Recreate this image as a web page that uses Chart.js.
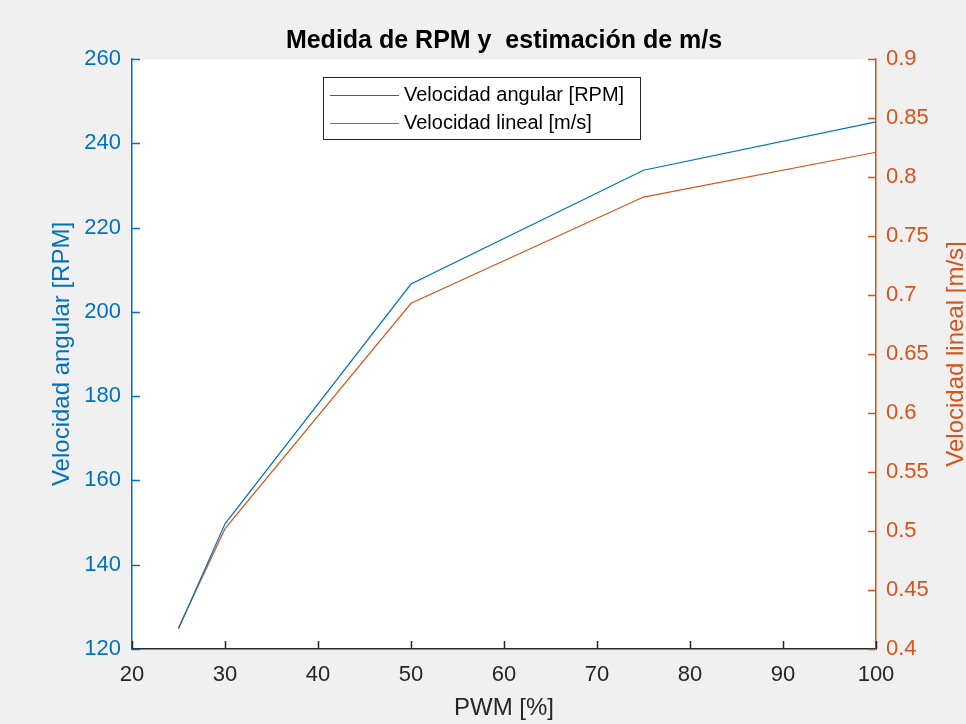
<!DOCTYPE html>
<html>
<head>
<meta charset="utf-8">
<script src="https://cdn.jsdelivr.net/npm/chart.js@4.4.1/dist/chart.umd.min.js"></script>
<style>
  html, body { margin: 0; padding: 0; background: #f0f0f0; }
  #c { display: block; }
</style>
</head>
<body>
<canvas id="c" width="966" height="724"></canvas>
<script>
// ---- data ----
const pwm = [25, 30, 50, 75, 100];
const rpm = [124.8, 149.7, 206.6, 233.6, 245.1];
const mps = [0.418, 0.502, 0.693, 0.783, 0.821];
const xTicks = [20, 30, 40, 50, 60, 70, 80, 90, 100];
const yTicks = [120, 140, 160, 180, 200, 220, 240, 260];
const y1Ticks = [0.4, 0.45, 0.5, 0.55, 0.6, 0.65, 0.7, 0.75, 0.8, 0.85, 0.9];

const chartTitle = 'Medida de RPM y  estimación de m/s';
const xTitle = 'PWM [%]';
const yTitle = 'Velocidad angular [RPM]';
const y1Title = 'Velocidad lineal [m/s]';
const labelRPM = 'Velocidad angular [RPM]';
const labelMPS = 'Velocidad lineal [m/s]';

const BLUE = '#0072BD';
const ORANGE = '#D95319';
const DARK = '#262626';
const FONT = '"Liberation Sans", Arial, Helvetica, sans-serif';

const decorPlugin = {
  id: 'decor',
  afterDraw(chart) {
    const ctx = chart.ctx;
    const a = chart.chartArea;
    const sx = chart.scales.x, sy = chart.scales.y, sy1 = chart.scales.y1;
    const TL = 8;
    ctx.save();
    ctx.lineWidth = 1.5;
    // inward ticks
    ctx.strokeStyle = DARK;
    ctx.beginPath();
    sx.ticks.forEach(t => {
      const px = Math.round(sx.getPixelForValue(t.value)) + 0.5;
      ctx.moveTo(px, a.bottom); ctx.lineTo(px, a.bottom - TL);
    });
    ctx.stroke();
    ctx.strokeStyle = BLUE;
    ctx.beginPath();
    sy.ticks.forEach(t => {
      const py = Math.round(sy.getPixelForValue(t.value)) + 0.5;
      ctx.moveTo(a.left, py); ctx.lineTo(a.left + TL, py);
    });
    ctx.stroke();
    ctx.strokeStyle = ORANGE;
    ctx.beginPath();
    sy1.ticks.forEach(t => {
      const py = Math.round(sy1.getPixelForValue(t.value)) + 0.5;
      ctx.moveTo(a.right, py); ctx.lineTo(a.right - TL, py);
    });
    ctx.stroke();

    // title
    const cx = (a.left + a.right) / 2;
    ctx.fillStyle = '#000';
    ctx.font = 'bold 25px ' + FONT;
    ctx.textAlign = 'center';
    ctx.textBaseline = 'middle';
    ctx.fillText(chartTitle, cx, 41);

    // axis titles
    ctx.font = '24px ' + FONT;
    ctx.fillStyle = DARK;
    ctx.fillText(xTitle, cx, 708);
    const cy = (a.top + a.bottom) / 2;
    ctx.save();
    ctx.translate(62, cy);
    ctx.rotate(-Math.PI / 2);
    ctx.fillStyle = BLUE;
    ctx.fillText(yTitle, 0, 0);
    ctx.restore();
    ctx.save();
    ctx.translate(956, cy);
    ctx.rotate(-Math.PI / 2);
    ctx.fillStyle = ORANGE;
    ctx.fillText(y1Title, 0, 0);
    ctx.restore();

    // legend
    const lx = 323, ly = 77, lw = 317, lh = 62;
    ctx.fillStyle = '#fff';
    ctx.fillRect(lx, ly, lw, lh);
    ctx.strokeStyle = '#262626';
    ctx.lineWidth = 1;
    ctx.strokeRect(lx + 0.5, ly + 0.5, lw, lh);
    ctx.font = '20px ' + FONT;
    ctx.textAlign = 'left';
    ctx.textBaseline = 'middle';
    chart.data.datasets.forEach((ds, i) => {
      const yy = ly + 18 + i * 28;
      ctx.strokeStyle = ds.borderColor;
      ctx.lineWidth = 1.2;
      ctx.beginPath();
      ctx.moveTo(330, yy + 0.5); ctx.lineTo(399, yy + 0.5);
      ctx.stroke();
      ctx.fillStyle = '#000';
      ctx.fillText(ds.label, 404, yy);
    });
    ctx.restore();
  }
};

const bgPlugin = {
  id: 'bg',
  beforeDraw(chart) {
    const ctx = chart.ctx, a = chart.chartArea;
    ctx.save();
    ctx.fillStyle = '#f0f0f0';
    ctx.fillRect(0, 0, chart.width, chart.height);
    ctx.fillStyle = '#ffffff';
    ctx.fillRect(a.left, a.top, a.right - a.left, a.bottom - a.top);
    ctx.restore();
  }
};

new Chart(document.getElementById('c'), {
  type: 'line',
  data: {
    datasets: [
      { label: labelRPM, data: pwm.map((x, i) => ({x, y: rpm[i]})), borderColor: BLUE, borderWidth: 1.2, pointRadius: 0, yAxisID: 'y', tension: 0 },
      { label: labelMPS, data: pwm.map((x, i) => ({x, y: mps[i]})), borderColor: ORANGE, borderWidth: 1.2, pointRadius: 0, yAxisID: 'y1', tension: 0 }
    ]
  },
  options: {
    responsive: false,
    animation: false,
    layout: { padding: { top: 59, left: 0, right: 0, bottom: 0 } },
    plugins: { legend: { display: false }, title: { display: false }, tooltip: { enabled: false } },
    scales: {
      x: {
        type: 'linear', min: 20, max: 100,
        afterBuildTicks: s => { s.ticks = xTicks.map(v => ({value: v})); },
        afterFit: s => { s.height = 75; },
        grid: { display: false, drawTicks: false },
        border: { display: true, color: DARK, width: 1.5 },
        ticks: { color: DARK, font: { family: FONT, size: 22 }, padding: 13, maxRotation: 0, autoSkip: false }
      },
      y: {
        type: 'linear', position: 'left', min: 120, max: 260,
        afterBuildTicks: s => { s.ticks = yTicks.map(v => ({value: v})); },
        afterFit: s => { s.width = 132; },
        grid: { display: false, drawTicks: false },
        border: { display: true, color: BLUE, width: 1.5 },
        ticks: { color: BLUE, font: { family: FONT, size: 22 }, padding: 11, autoSkip: false }
      },
      y1: {
        type: 'linear', position: 'right', min: 0.4, max: 0.9,
        afterBuildTicks: s => { s.ticks = y1Ticks.map(v => ({value: v})); },
        afterFit: s => { s.width = 90; },
        grid: { display: false, drawTicks: false },
        border: { display: true, color: ORANGE, width: 1.5 },
        ticks: { color: ORANGE, font: { family: FONT, size: 22 }, padding: 10, autoSkip: false,
                 callback: v => String(Math.round(v * 100) / 100) }
      }
    }
  },
  plugins: [bgPlugin, decorPlugin]
});
</script>
</body>
</html>
